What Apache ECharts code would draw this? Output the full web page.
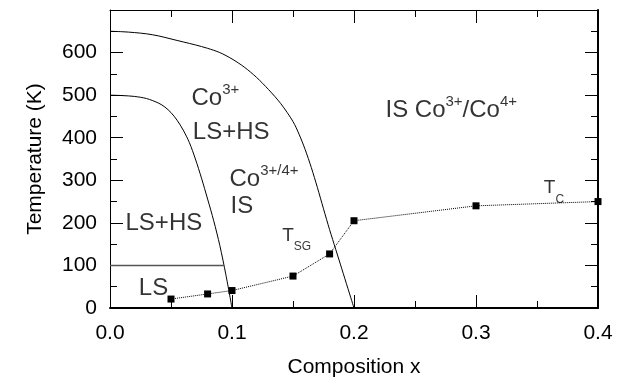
<!DOCTYPE html>
<html>
<head>
<meta charset="utf-8">
<script src="https://cdn.jsdelivr.net/npm/echarts@6/dist/echarts.min.js"></script>
<style>
html,body{margin:0;padding:0;background:#fff;}
#c{width:625px;height:378px;}
</style>
</head>
<body>
<div id="c"></div>
<script>
// ---- data ----
const xTicks = [0.0, 0.1, 0.2, 0.3, 0.4];
const yTicks = [0, 100, 200, 300, 400, 500, 600];

// measured transition points (T_SG / T_C)
const markX = [0.05, 0.08, 0.10, 0.15, 0.18, 0.20, 0.30, 0.40];
const markT = [21, 33, 41, 75, 127, 205, 240, 250];

// outer phase boundary (Co3+ LS+HS / IS)
const outerX = [0, 0.01, 0.02, 0.03, 0.04, 0.05, 0.06, 0.07, 0.08, 0.09, 0.10, 0.11, 0.12, 0.13, 0.14, 0.15, 0.155, 0.16, 0.165, 0.17, 0.175, 0.18, 0.185, 0.19, 0.195, 0.2];
const outerT = [650, 649, 647, 644, 639, 632, 625, 618, 610, 600, 585, 566, 542, 513, 480, 438, 408, 372, 330, 283, 233, 184, 138, 92, 46, 0];

// inner phase boundary (LS+HS)
const innerX = [0, 0.01, 0.02, 0.03, 0.04, 0.045, 0.05, 0.055, 0.06, 0.065, 0.07, 0.075, 0.08, 0.085, 0.09, 0.095, 0.1];
const innerT = [500, 499, 497, 492, 481, 472, 459, 441, 418, 389, 350, 305, 256, 205, 147, 78, 0];

// LS / LS+HS boundary
const lsX = [0, 0.0934];
const lsT = [100, 100];

// region annotations
const annX = [0.0664, 0.0675, 0.0975, 0.0984, 0.2254, 0.0123, 0.0232, 0.1407, 0.3552];
const annT = [498, 417, 306, 243, 468, 204, 51, 161, 272];
const annText = [
  '{n|Co}{s|3+}',
  '{n|LS+HS}',
  '{n|Co}{s|3+/4+}',
  '{n|IS}',
  '{n|IS Co}{s|3+}{n|/Co}{s|4+}',
  '{n|LS+HS}',
  '{n|LS}',
  '{t|T}{b|SG}{z| }',
  '{t|T}{b|C}{z| }'
];

const FONT = '"Liberation Sans", Arial, Helvetica, sans-serif';
const pair = (xs, ys) => xs.map((x, i) => [x, ys[i]]);

const chart = echarts.init(document.getElementById('c'), null, {renderer: 'canvas'});

const xBase = {
  type: 'value', min: 0, max: 0.4, interval: 0.1,
  splitLine: {show: false},
  axisTick: {show: true, inside: true, length: 13, lineStyle: {color: '#000', width: 1}},
  minorTick: {show: true, splitNumber: 2, length: 7, lineStyle: {color: '#000', width: 1}},
  minorSplitLine: {show: false}
};
const yBase = {
  type: 'value', min: 0, max: 700, interval: 100,
  splitLine: {show: false},
  axisTick: {show: true, inside: true, length: 13, lineStyle: {color: '#000', width: 1}},
  minorTick: {show: true, splitNumber: 2, length: 7, lineStyle: {color: '#000', width: 1}},
  minorSplitLine: {show: false}
};

const option = {
  animation: false,
  backgroundColor: '#fff',
  grid: {left: 110, right: 27, top: 10, bottom: 70, containLabel: false, outerBoundsMode: 'none'},
  xAxis: [
    Object.assign({}, xBase, {
      position: 'bottom',
      axisLine: {show: true, onZero: false, lineStyle: {color: '#000', width: 2}},
      axisLabel: {show: true, fontSize: 21, color: '#000', fontFamily: FONT, margin: 15,
        formatter: v => xTicks.some(t => Math.abs(t - v) < 1e-9) ? v.toFixed(1) : ''},
      name: 'Composition x', nameLocation: 'middle', nameGap: 49,
      nameTextStyle: {fontSize: 21, color: '#000', fontFamily: FONT}
    }),
    Object.assign({}, xBase, {
      position: 'top',
      axisLine: {show: true, onZero: false, lineStyle: {color: '#000', width: 1}},
      axisLabel: {show: false}
    })
  ],
  yAxis: [
    Object.assign({}, yBase, {
      position: 'left',
      axisLine: {show: true, onZero: false, lineStyle: {color: '#000', width: 1}},
      axisLabel: {show: true, fontSize: 21, color: '#000', fontFamily: FONT, margin: 13,
        formatter: v => yTicks.indexOf(v) >= 0 ? String(v) : ''},
      name: 'Temperature (K)', nameLocation: 'middle', nameGap: 64, nameRotate: 90,
      nameTextStyle: {fontSize: 21, color: '#000', fontFamily: FONT}
    }),
    Object.assign({}, yBase, {
      position: 'right',
      axisLine: {show: true, onZero: false, lineStyle: {color: '#000', width: 2}},
      axisLabel: {show: false}
    })
  ],
  series: [
    {
      type: 'line', data: pair(outerX, outerT), smooth: 0.3,
      symbol: 'none', lineStyle: {color: '#000', width: 1}, z: 2, silent: true
    },
    {
      type: 'line', data: pair(innerX, innerT), smooth: 0.3,
      symbol: 'none', lineStyle: {color: '#000', width: 1}, z: 2, silent: true
    },
    {
      type: 'line', data: pair(lsX, lsT), symbol: 'none',
      lineStyle: {color: '#555', width: 1.5}, z: 2, silent: true
    },
    {
      type: 'line', data: pair(markX, markT), symbol: 'rect', symbolSize: 7,
      itemStyle: {color: '#000'},
      lineStyle: {color: '#000', width: 1, type: 'dotted'}, z: 4, silent: true
    },
    {
      type: 'scatter', data: annX.map((x, i) => ({value: [x, annT[i]], label: {formatter: annText[i]}})),
      symbolSize: 1, itemStyle: {color: 'rgba(0,0,0,0)'}, z: 5, silent: true,
      label: {
        show: true, position: 'right', distance: 0, color: '#000', fontFamily: FONT,
        rich: {
          n: {fontSize: 24, lineHeight: 28, verticalAlign: 'bottom', color: '#000', fontFamily: FONT},
          s: {fontSize: 15, lineHeight: 15, verticalAlign: 'top', color: '#000', fontFamily: FONT},
          t: {fontSize: 19, lineHeight: 19, verticalAlign: 'top', color: '#000', fontFamily: FONT},
          b: {fontSize: 12, lineHeight: 12, verticalAlign: 'bottom', color: '#000', fontFamily: FONT},
          z: {fontSize: 1, lineHeight: 27, verticalAlign: 'bottom', color: 'rgba(0,0,0,0)', fontFamily: FONT}
        }
      }
    }
  ]
};
chart.setOption(option);
</script>
</body>
</html>
